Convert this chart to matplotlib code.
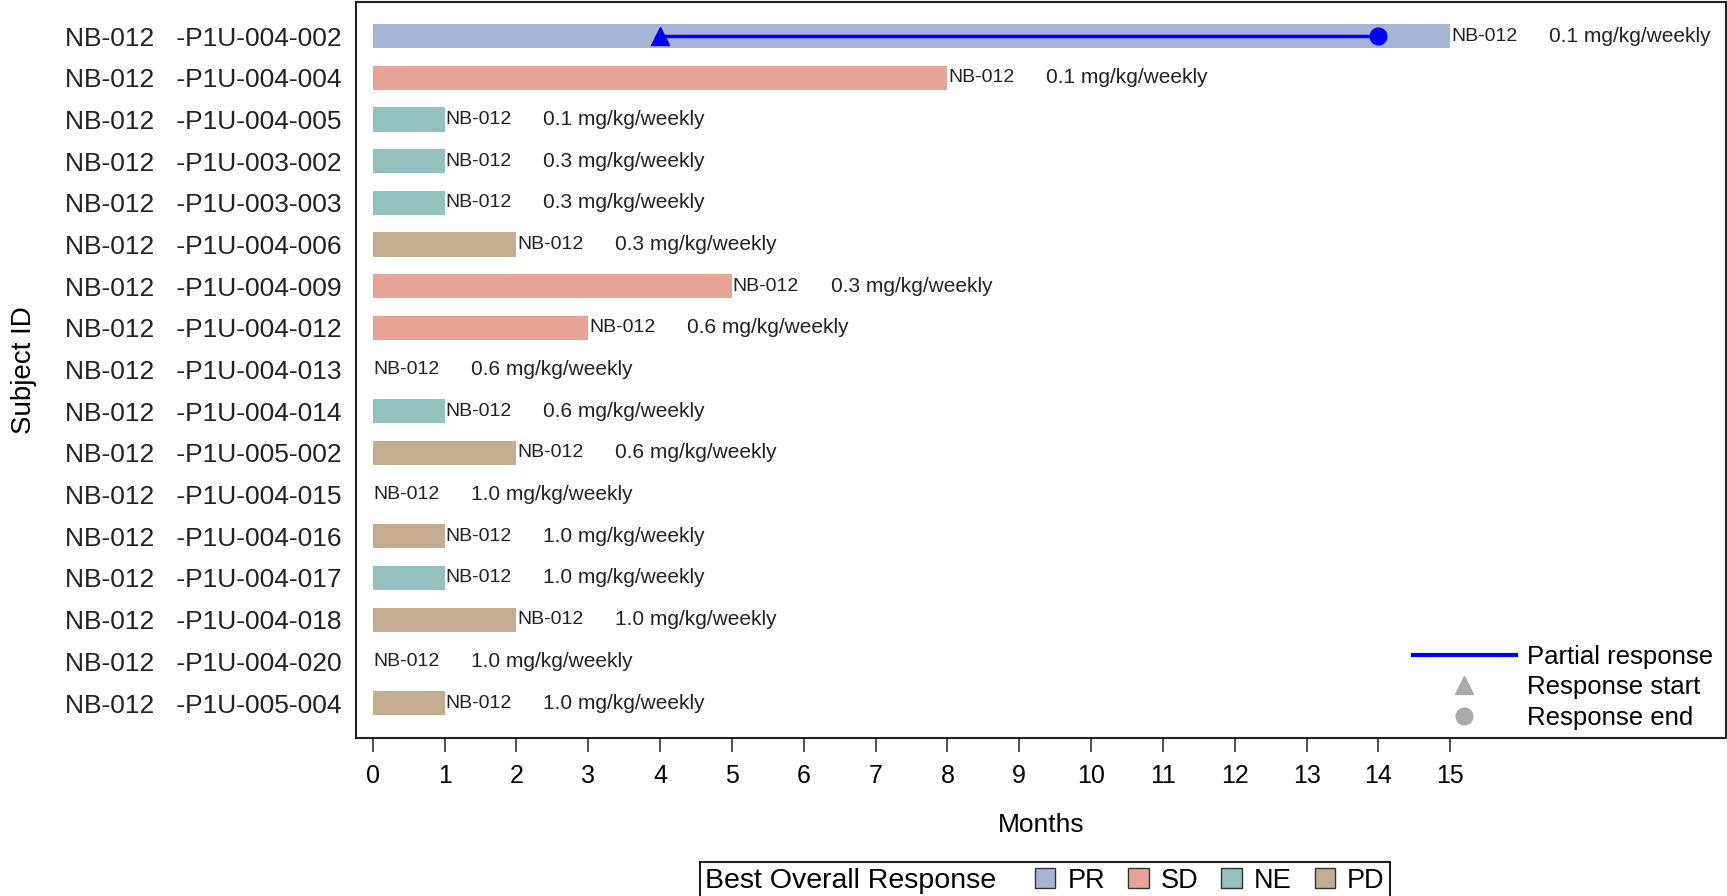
import matplotlib.pyplot as plt
from matplotlib.patches import Patch
from matplotlib.lines import Line2D
from matplotlib.offsetbox import HPacker

plt.rcParams['font.family'] = ['Liberation Sans', 'DejaVu Sans']

# datos por paciente
sujetos = ['P1U-004-002', 'P1U-004-004', 'P1U-004-005', 'P1U-003-002', 'P1U-003-003',
           'P1U-004-006', 'P1U-004-009', 'P1U-004-012', 'P1U-004-013', 'P1U-004-014',
           'P1U-005-002', 'P1U-004-015', 'P1U-004-016', 'P1U-004-017', 'P1U-004-018',
           'P1U-004-020', 'P1U-005-004']
meses = [15, 8, 1, 1, 1, 2, 5, 3, 0, 1, 2, 0, 1, 1, 2, 0, 1]
respuesta = ['PR', 'SD', 'NE', 'NE', 'NE', 'PD', 'SD', 'SD', '', 'NE',
             'PD', '', 'PD', 'NE', 'PD', '', 'PD']
dosis = ['0.1', '0.1', '0.1', '0.3', '0.3', '0.3', '0.3', '0.6', '0.6', '0.6',
         '0.6', '1.0', '1.0', '1.0', '1.0', '1.0', '1.0']
farmaco = 'NB-012'

# respuesta parcial (solo el primer paciente)
inicio_resp = [4]
fin_resp = [14]
fila_resp = [0]

colores = {'PR': '#a6b4d8', 'SD': '#e7a396', 'NE': '#93c1bd', 'PD': '#c4ad8e'}

fig = plt.figure(figsize=(17.27, 8.96), dpi=100)
ax = fig.add_axes([0.206, 0.1763, 0.7935, 0.8215])

for i, (m, r) in enumerate(zip(meses, respuesta)):
    if m > 0:
        ax.barh(i, m, height=0.58, color=colores[r])
    ax.annotate(farmaco, (m, i), xytext=(0.5, 0), textcoords='offset points',
                ha='left', va='center', fontsize=14, color='#222222')
    ax.annotate(dosis[i] + ' mg/kg/weekly', (m, i), xytext=(71, 0), textcoords='offset points',
                ha='left', va='center', fontsize=15, color='#222222')

for f, a, b in zip(fila_resp, inicio_resp, fin_resp):
    ax.plot([a, b], [f, f], color='#0000ff', lw=2.5)
    ax.plot(a, f, marker='^', color='#0000ff', ms=13, ls='none')
    ax.plot(b, f, marker='o', color='#0000ff', ms=12, ls='none')

ax.set_xlim(-0.237, 18.84)
ax.set_ylim(16.84, -0.82)
ax.set_xticks(range(16))
ax.tick_params(axis='x', labelsize=18, length=10, width=1.2, pad=9, color='#333333')
ax.set_yticks(range(len(sujetos)))
ax.set_yticklabels([farmaco + '   -' + s for s in sujetos], fontsize=19, color='#222222')
ax.tick_params(axis='y', length=0, pad=10)
ax.set_xlabel('Months', fontsize=19, labelpad=18)
ax.set_ylabel('Subject ID', fontsize=20, labelpad=20)
for s in ax.spines.values():
    s.set_linewidth(1.5)
    s.set_color('#222222')

# leyenda de respuesta parcial
h_linea = [Line2D([], [], color='#0000ff', lw=3),
           Line2D([], [], marker='^', color='#aaaaaa', ls='none', ms=13),
           Line2D([], [], marker='o', color='#aaaaaa', ls='none', ms=12)]
ax.legend(h_linea, ['Partial response', 'Response start', 'Response end'],
          loc='lower right', bbox_to_anchor=(1.0, -0.006), frameon=False, fontsize=18.5,
          handlelength=4.0, handletextpad=0.45, labelspacing=0.24, borderaxespad=0.1)

# leyenda de mejor respuesta global, titulo en la misma linea
h_resp = [Patch(facecolor=colores[k], edgecolor='#333333') for k in ['PR', 'SD', 'NE', 'PD']]
leg = fig.legend(h_resp, ['PR', 'SD', 'NE', 'PD'], title='Best Overall Response',
                 title_fontsize=20.5, loc='lower center', bbox_to_anchor=(0.605, -0.0185),
                 ncol=4, fontsize=19.5, handlelength=0.75, handleheight=0.75,
                 handletextpad=0.45, columnspacing=0.85, borderpad=0.2,
                 fancybox=False, edgecolor='#222222', framealpha=1)
leg.get_frame().set_linewidth(1.5)
caja = leg._legend_box
leg._legend_box = HPacker(pad=caja.pad, sep=28, align='center',
                          children=caja.get_children())
leg._legend_box.set_figure(fig)
leg._legend_box.set_offset(leg._findoffset)

fig.savefig('out.png', dpi=100)
